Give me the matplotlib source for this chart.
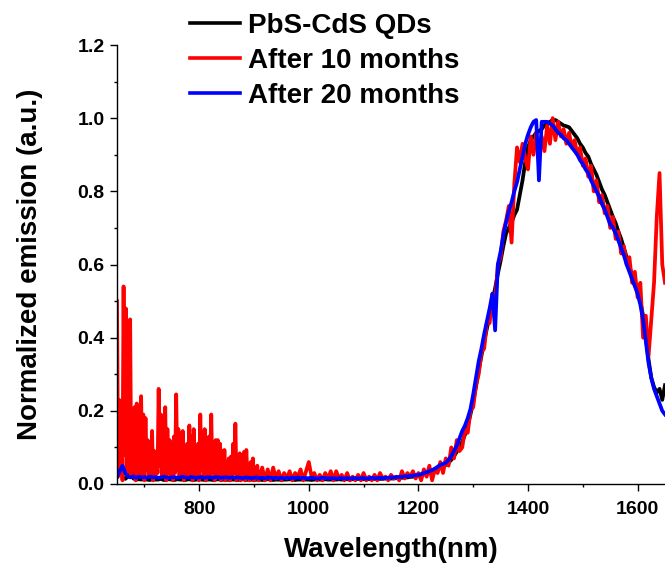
import numpy as np
import matplotlib
matplotlib.use("Agg")
import matplotlib.pyplot as plt
from matplotlib.ticker import MultipleLocator

plt.rcParams['font.family'] = ['Liberation Sans', 'DejaVu Sans']
plt.rcParams['font.weight'] = 'bold'

# wavelength grid (nm), 5 nm steps for the smooth spectra
wavelength = np.arange(650, 1655, 5)
# the noisy "after 10 months" spectrum is sampled finer at short wavelengths
wavelength_10 = np.concatenate([np.arange(650, 910, 2), np.arange(910, 1655, 5)])

labels = ["PbS-CdS QDs", "After 10 months", "After 20 months"]
colors = ["#000000", "#ff0000", "#0000ff"]

pbs_cds = [
    0.02, 0.075, 0.02, 0.014, 0.02, 0.065, 0.015, 0.012, 0.013, 0.012, 0.014, 0.012, 0.011, 0.013, 0.012, 0.012, 0.014, 0.011, 0.012, 0.013,
    0.012, 0.011, 0.013, 0.012, 0.012, 0.011, 0.013, 0.012, 0.011, 0.012, 0.013, 0.012, 0.011, 0.012, 0.012, 0.011, 0.012, 0.013, 0.011, 0.012,
    0.012, 0.011, 0.012, 0.012, 0.011, 0.012, 0.013, 0.011, 0.012, 0.012, 0.011, 0.012, 0.012, 0.011, 0.012, 0.013, 0.012, 0.011, 0.012, 0.012,
    0.011, 0.012, 0.012, 0.013, 0.012, 0.011, 0.012, 0.012, 0.013, 0.012, 0.012, 0.011, 0.012, 0.013, 0.012, 0.012, 0.013, 0.012, 0.012, 0.013,
    0.012, 0.013, 0.012, 0.013, 0.013, 0.012, 0.013, 0.013, 0.014, 0.013, 0.013, 0.014, 0.013, 0.014, 0.014, 0.013, 0.014, 0.014, 0.015, 0.014,
    0.015, 0.015, 0.016, 0.016, 0.017, 0.018, 0.018, 0.019, 0.020, 0.021, 0.022, 0.024, 0.026, 0.028, 0.030, 0.033, 0.036, 0.040, 0.044, 0.048,
    0.052, 0.058, 0.066, 0.076, 0.088, 0.10, 0.115, 0.135, 0.16, 0.19, 0.225, 0.265, 0.31, 0.35, 0.39, 0.425, 0.46, 0.50, 0.535, 0.575,
    0.61, 0.65, 0.685, 0.70, 0.715, 0.735, 0.75, 0.79, 0.83, 0.88, 0.92, 0.94, 0.95, 0.96, 0.965, 0.97, 0.98, 0.985, 0.99, 0.995,
    0.995, 0.99, 0.985, 0.98, 0.978, 0.975, 0.965, 0.955, 0.945, 0.93, 0.92, 0.905, 0.895, 0.875, 0.86, 0.845, 0.825, 0.805, 0.79, 0.77,
    0.75, 0.73, 0.713, 0.69, 0.67, 0.645, 0.62, 0.595, 0.57, 0.55, 0.53, 0.50, 0.46, 0.40, 0.34, 0.29, 0.265, 0.25, 0.26, 0.23,
    0.27,
]

after_10 = [
    # 650 - 908 nm, 2 nm steps
    0.50, 0.02, 0.23, 0.05, 0.21, 0.01, 0.54, 0.08, 0.48, 0.03, 0.34, 0.06, 0.45, 0.02, 0.19, 0.04,
    0.21, 0.01, 0.22, 0.05, 0.20, 0.02, 0.24, 0.03, 0.19, 0.01, 0.18, 0.04, 0.12, 0.02, 0.10, 0.03,
    0.145, 0.01, 0.09, 0.02, 0.08, 0.03, 0.26, 0.05, 0.19, 0.02, 0.18, 0.04, 0.21, 0.01, 0.15, 0.03,
    0.12, 0.02, 0.10, 0.01, 0.13, 0.03, 0.245, 0.04, 0.15, 0.02, 0.14, 0.03, 0.145, 0.01, 0.10, 0.02,
    0.11, 0.03, 0.16, 0.02, 0.13, 0.01, 0.15, 0.03, 0.10, 0.02, 0.11, 0.01, 0.19, 0.04, 0.14, 0.02,
    0.15, 0.01, 0.12, 0.03, 0.13, 0.02, 0.19, 0.03, 0.11, 0.01, 0.12, 0.02, 0.12, 0.03, 0.11, 0.01,
    0.09, 0.02, 0.093, 0.01, 0.06, 0.02, 0.07, 0.01, 0.075, 0.02, 0.11, 0.03, 0.165, 0.01, 0.06, 0.02,
    0.084, 0.01, 0.05, 0.02, 0.088, 0.01, 0.093, 0.02, 0.05, 0.01, 0.06, 0.02, 0.07, 0.01, 0.04, 0.02,
    0.05, 0.01,
    # 910 - 1650 nm, 5 nm steps
    0.015, 0.045, 0.01, 0.04, 0.01, 0.045, 0.015, 0.035,
    0.01, 0.03, 0.015, 0.035, 0.01, 0.03, 0.02, 0.04, 0.01, 0.035, 0.06, 0.02, 0.03, 0.01, 0.025, 0.01, 0.03, 0.015, 0.035, 0.01,
    0.035, 0.015, 0.025, 0.01, 0.03, 0.01, 0.02, 0.01, 0.025, 0.01, 0.03, 0.01, 0.02, 0.01, 0.025, 0.01, 0.03, 0.015, 0.02, 0.01,
    0.025, 0.015, 0.02, 0.01, 0.035, 0.015, 0.03, 0.02, 0.035, 0.015, 0.03, 0.01, 0.04, 0.02, 0.05, 0.01, 0.04, 0.03, 0.06, 0.03,
    0.07, 0.05, 0.10, 0.07, 0.12, 0.09, 0.10, 0.15, 0.14, 0.20, 0.21, 0.27, 0.30, 0.36, 0.37, 0.44, 0.44, 0.52, 0.50, 0.60,
    0.62, 0.69, 0.72, 0.76, 0.66, 0.82, 0.92, 0.88, 0.93, 0.89, 0.86, 0.95, 0.90, 0.96, 0.89, 0.95, 0.91, 0.98, 0.93, 1.0,
    0.94, 0.99, 0.95, 0.97, 0.93, 0.96, 0.92, 0.94, 0.90, 0.92, 0.87, 0.89, 0.84, 0.87, 0.80, 0.83, 0.77, 0.79, 0.74, 0.76,
    0.70, 0.73, 0.67, 0.69, 0.63, 0.65, 0.60, 0.62, 0.55, 0.58, 0.51, 0.55, 0.40, 0.46, 0.35, 0.45, 0.55, 0.73, 0.85, 0.60,
    0.55,
]

after_20 = [
    0.02, 0.035, 0.05, 0.03, 0.02, 0.018, 0.021, 0.017, 0.02, 0.018, 0.019, 0.017, 0.02, 0.018, 0.019, 0.017, 0.018, 0.02, 0.018, 0.017,
    0.018, 0.019, 0.017, 0.018, 0.02, 0.018, 0.017, 0.019, 0.018, 0.017, 0.018, 0.019, 0.017, 0.018, 0.018, 0.017, 0.019, 0.018, 0.017, 0.018,
    0.018, 0.017, 0.018, 0.017, 0.018, 0.017, 0.016, 0.018, 0.017, 0.016, 0.017, 0.018, 0.016, 0.017, 0.016, 0.018, 0.017, 0.016, 0.017, 0.016,
    0.017, 0.016, 0.017, 0.016, 0.017, 0.016, 0.018, 0.016, 0.017, 0.016, 0.016, 0.017, 0.016, 0.015, 0.016, 0.017, 0.016, 0.015, 0.016, 0.016,
    0.015, 0.016, 0.016, 0.015, 0.016, 0.015, 0.016, 0.016, 0.015, 0.016, 0.016, 0.015, 0.016, 0.017, 0.016, 0.016, 0.017, 0.016, 0.017, 0.017,
    0.018, 0.018, 0.019, 0.019, 0.02, 0.021, 0.021, 0.022, 0.023, 0.024, 0.025, 0.027, 0.03, 0.032, 0.035, 0.038, 0.042, 0.047, 0.052, 0.055,
    0.058, 0.066, 0.076, 0.09, 0.105, 0.125, 0.145, 0.16, 0.18, 0.205, 0.245, 0.29, 0.335, 0.37, 0.41, 0.445, 0.48, 0.52, 0.42, 0.60,
    0.635, 0.68, 0.715, 0.745, 0.77, 0.80, 0.825, 0.86, 0.895, 0.93, 0.955, 0.975, 0.99, 0.995, 0.83, 0.99, 0.99, 0.99, 0.985, 0.98,
    0.97, 0.96, 0.955, 0.945, 0.94, 0.93, 0.92, 0.91, 0.90, 0.885, 0.875, 0.86, 0.85, 0.83, 0.815, 0.80, 0.785, 0.765, 0.75, 0.73,
    0.71, 0.70, 0.685, 0.665, 0.645, 0.625, 0.60, 0.58, 0.56, 0.54, 0.52, 0.49, 0.45, 0.39, 0.33, 0.29, 0.26, 0.24, 0.22, 0.20,
    0.19,
]

x_ticks = [800, 1000, 1200, 1400, 1600]
y_ticks = [0.0, 0.2, 0.4, 0.6, 0.8, 1.0, 1.2]

fig = plt.figure(figsize=(6.65, 5.67), dpi=100)
ax = fig.add_axes([117 / 665, 83 / 567, (665 - 117) / 665, (484 - 45) / 567])

series = [(wavelength, pbs_cds), (wavelength_10, after_10), (wavelength, after_20)]
for (wl, vals), lab, col in zip(series, labels, colors):
    ax.plot(wl, vals, color=col, lw=2.7, label=lab, solid_joinstyle='round')

ax.set_xlim(650, 1650)
ax.set_ylim(0, 1.2)
ax.set_xticks(x_ticks)
ax.set_yticks(y_ticks)
ax.set_yticklabels([f"{v:.1f}" for v in y_ticks])
ax.xaxis.set_minor_locator(MultipleLocator(100))
ax.yaxis.set_minor_locator(MultipleLocator(0.1))

for s in ['top', 'right']:
    ax.spines[s].set_visible(False)
for s in ['left', 'bottom']:
    ax.spines[s].set_linewidth(1.0)

ax.tick_params(which='major', direction='out', length=5, width=1.0, labelsize=14)
ax.tick_params(axis='x', which='major', pad=7)
ax.tick_params(axis='y', which='major', pad=4)
ax.tick_params(which='minor', direction='out', length=2.5, width=1.0)
for lbl in ax.get_xticklabels() + ax.get_yticklabels():
    lbl.set_fontweight('bold')

ax.set_xlabel("Wavelength(nm)", fontsize=20, fontweight='bold', labelpad=14)
ax.set_ylabel("Normalized emission (a.u.)", fontsize=20, fontweight='bold', labelpad=25)

leg = ax.legend(loc='upper left', bbox_to_anchor=(190 / 665, 1 - 13 / 567),
                bbox_transform=fig.transFigure, frameon=False,
                prop={'size': 20, 'weight': 'bold'}, handlelength=1.8,
                handletextpad=0.3, labelspacing=0.32, borderpad=0, borderaxespad=0)
for line in leg.get_lines():
    line.set_linewidth(2.6)

fig.savefig("out.png", dpi=100)
